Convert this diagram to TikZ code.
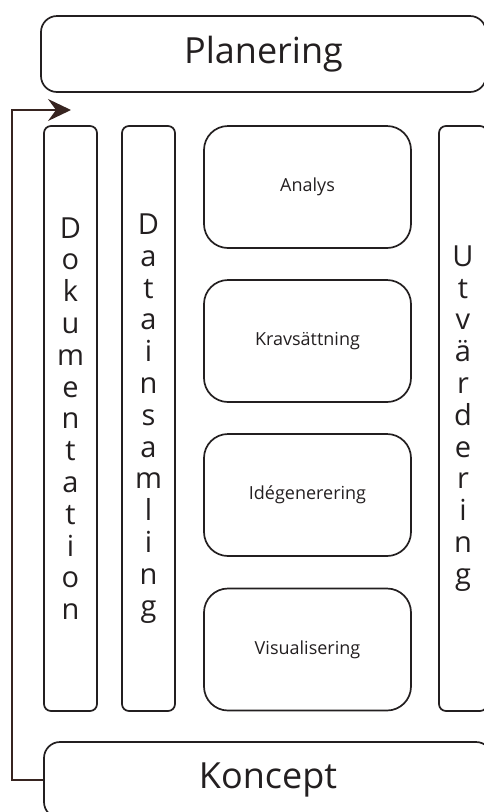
\documentclass[tikz,border=0pt]{standalone}
\usepackage{fontspec}
\setmainfont{Open Sans}
\usetikzlibrary{arrows.meta}
\definecolor{ink}{RGB}{35,31,32}
\definecolor{arrowink}{RGB}{55,36,32}
\begin{document}
\begin{tikzpicture}[x=1pt,y=-1pt,
    box/.style = {draw=ink,line width=1.7pt,rounded corners=16pt,inner sep=0pt,text=ink},
    phase/.style = {draw=ink,line width=1.7pt,rounded corners=24pt,inner sep=0pt,
                    minimum width=207pt,minimum height=122pt,text=ink,
                    font=\fontsize{18}{22}\selectfont},
    column/.style = {draw=ink,line width=1.7pt,rounded corners=7pt,inner sep=0pt,
                     minimum width=53pt,minimum height=585pt,align=center,text=ink,
                     font=\fontsize{29}{31.8}\selectfont},
    arrow/.style = {line width=1.7pt,draw=arrowink,
                    -{Stealth[length=23pt,width=22pt,inset=8pt]}}]
    \useasboundingbox (0,0) rectangle (484,812);

    % top and bottom
    \node[box,minimum width=445pt,minimum height=76pt,
          font=\fontsize{36}{42}\selectfont] (planering) at (263.5,54) {Planering};
    \node[box,minimum width=448pt,minimum height=76pt,
          font=\fontsize{36}{42}\selectfont] (koncept) at (268,780) {Koncept};

    % side columns
    \node[column] (dokumentation) at (70.5,418.5)
        {D\\o\\k\\u\\m\\e\\n\\t\\a\\t\\i\\o\\n};
    \node[column] (datainsamling) at (148.5,418.5)
        {D\\a\\t\\a\\i\\n\\s\\a\\m\\l\\i\\n\\g};
    \node[column,minimum width=48pt] (utvardering) at (463,418.5)
        {U\\t\\v\\ä\\r\\d\\e\\r\\i\\n\\g};

    % phases
    \node[phase] (analys) at (307.5,187) {Analys};
    \node[phase] (krav) at (307.5,341) {Kravsättning};
    \node[phase] (ide) at (307.5,495) {Idégenerering};
    \node[phase] (visual) at (307.5,649.5) {Visualisering};

    % feedback loop
    \coordinate (corner) at (12,110);
    \coordinate (tip) at (71,110);
    \draw[arrow] (koncept.west) -| (corner) -- (tip);
\end{tikzpicture}
\end{document}
